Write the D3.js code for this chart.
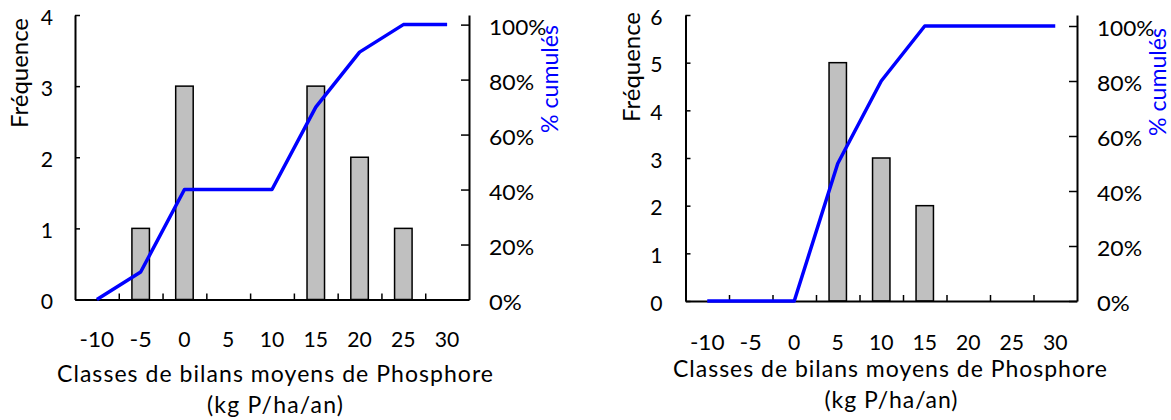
<!DOCTYPE html>
<html>
<head>
<meta charset="utf-8">
<script src="https://cdn.jsdelivr.net/npm/d3@7"></script>
<style>
  html, body { margin: 0; padding: 0; background: #fff; }
  svg { display: block; }
  text { font-family: Lato, "Open Sans", sans-serif; fill: #000; }
</style>
</head>
<body>
<svg id="chart" width="1171" height="420"></svg>
<script>
// ---- Data ----
const categories = ["-10", "-5", "0", "5", "10", "15", "20", "25", "30"];
const freqLeft  = [0, 1, 3, 0, 0, 3, 2, 1, 0];
const cumLeft   = [0, 0.10, 0.40, 0.40, 0.40, 0.70, 0.90, 1.00, 1.00];
const freqRight = [0, 0, 0, 5, 3, 2, 0, 0, 0];
const cumRight  = [0, 0, 0, 0.50, 0.80, 1.00, 1.00, 1.00, 1.00];
const freqTicksLeft  = [0, 1, 2, 3, 4];
const freqTicksRight = [0, 1, 2, 3, 4, 5, 6];
const pctTicks = [0, 0.2, 0.4, 0.6, 0.8, 1.0];
const xTitleLine1 = "Classes de bilans moyens de Phosphore";
const xTitleLine2 = "(kg P/ha/an)";
const yLeftTitle = "Fréquence";
const yRightTitle = "% cumulés";

const svg = d3.select("#chart");

// approximate rendered widths of the reference glyphs (styling only)
const glyphW = ch => ch === "%" ? 20.5 : ch === "-" ? 10 : 12.3;
const labelLen = s => Array.from(s).reduce((a, ch) => a + glyphW(ch), 0);

function drawChart(freq, cum, freqTicks, L) {
  const g = svg.append("g");
  const n = categories.length;
  const x = d3.scaleBand().domain(categories).range([L.x0, L.x1])
    .paddingInner(0.6).paddingOuter(0.3);
  const xEdge = d3.scaleLinear().domain([0, n]).range([L.x0, L.x1]);
  const yL = d3.scaleLinear().domain([0, d3.max(freqTicks)]).range([L.yBot, L.yTop]);
  const yR = d3.scaleLinear().domain([0, L.pctMax]).range([L.yBot, L.yTop]);

  // bars
  g.append("g").selectAll("rect").data(categories.map((c, i) => ({c, v: freq[i]})).filter(d => d.v > 0))
    .join("rect")
    .attr("x", d => x(d.c))
    .attr("y", d => yL(d.v))
    .attr("width", x.bandwidth())
    .attr("height", d => yL(0) - yL(d.v))
    .attr("fill", "#C0C0C0")
    .attr("stroke", "#000")
    .attr("stroke-width", 1.5);

  const tickFont = (sel) => sel.selectAll("text")
    .attr("font-family", "Lato, 'Open Sans', sans-serif")
    .attr("font-size", 21).attr("fill", "#000")
    .attr("textLength", function () { return labelLen(this.textContent); })
    .attr("lengthAdjust", "spacingAndGlyphs");

  // left axis
  const axL = g.append("g").attr("transform", `translate(${L.x0},0)`)
    .call(d3.axisLeft(yL).tickValues(freqTicks).tickFormat(d3.format("d"))
      .tickSizeInner(-5).tickSizeOuter(0).tickPadding(L.leftPad));
  axL.select(".domain").attr("stroke-width", 2);
  axL.selectAll(".tick line").attr("stroke-width", 1.5);
  tickFont(axL);
  axL.selectAll("text").attr("dy", null).attr("y", 9);

  // right axis
  const axR = g.append("g").attr("transform", `translate(${L.x1},0)`)
    .call(d3.axisRight(yR).tickValues(pctTicks).tickFormat(d3.format(".0%"))
      .tickSizeInner(-8).tickSizeOuter(0).tickPadding(20));
  axR.select(".domain").attr("stroke-width", 2);
  axR.selectAll(".tick line").attr("stroke-width", 1.5);
  tickFont(axR);
  axR.selectAll("text").attr("dy", null).attr("y", 9.5);

  // x axis: labels at centers
  const axX = g.append("g").attr("transform", `translate(0,${L.yBot})`)
    .call(d3.axisBottom(x).tickSize(0).tickPadding(0));
  axX.select(".domain").remove();
  tickFont(axX);
  axX.selectAll("text").attr("dy", null).attr("y", L.tickBase - L.yBot);

  // x axis: boundary tick marks and line
  const axE = g.append("g").attr("transform", `translate(0,${L.yBot})`)
    .call(d3.axisBottom(xEdge).tickValues(d3.range(1, n)).tickFormat("")
      .tickSizeInner(-6).tickSizeOuter(0));
  axE.select(".domain").attr("stroke-width", 2);
  axE.selectAll(".tick line").attr("stroke-width", 1.5);

  // cumulative line
  const line = d3.line()
    .x((d, i) => x(categories[i]) + x.bandwidth() / 2)
    .y(d => yR(d));
  g.append("path").datum(cum)
    .attr("d", line)
    .attr("fill", "none")
    .attr("stroke", "#0000FF")
    .attr("stroke-width", 3.5)
    .attr("stroke-linejoin", "round");

  // titles
  g.append("text").attr("x", L.titleCx).attr("y", L.t1Base)
    .attr("text-anchor", "middle").attr("font-size", 23)
    .attr("textLength", L.t1Len).attr("lengthAdjust", "spacing")
    .text(xTitleLine1);
  g.append("text").attr("x", L.titleCx2).attr("y", L.t2Base)
    .attr("text-anchor", "middle").attr("font-size", 23)
    .attr("textLength", L.t2Len).attr("lengthAdjust", "spacing")
    .text(xTitleLine2);
  g.append("text")
    .attr("transform", `translate(${L.fqX},${L.fqY}) rotate(-90)`)
    .attr("text-anchor", "middle").attr("font-size", 24)
    .attr("textLength", 110).attr("lengthAdjust", "spacingAndGlyphs")
    .text(yLeftTitle);
  g.append("text")
    .attr("transform", `translate(${L.pcX},${L.pcY}) rotate(-90)`)
    .attr("text-anchor", "middle").attr("font-size", 24)
    .attr("textLength", 108).attr("lengthAdjust", "spacingAndGlyphs")
    .style("fill", "#0000FF")
    .text(yRightTitle);
}

drawChart(freqLeft, cumLeft, freqTicksLeft, {
  x0: 75, x1: 469, yTop: 15, yBot: 299.5, pctMax: 1.035, leftPad: 22,
  tickBase: 347, titleCx: 275, t1Base: 382, t1Len: 436,
  titleCx2: 275, t2Base: 413, t2Len: 136,
  fqX: 28, fqY: 73, pcX: 558, pcY: 79
});
drawChart(freqRight, cumRight, freqTicksRight, {
  x0: 685.5, x1: 1077, yTop: 15, yBot: 301, pctMax: 1.04, leftPad: 23,
  tickBase: 350, titleCx: 890, t1Base: 377, t1Len: 434,
  titleCx2: 891, t2Base: 408, t2Len: 133,
  fqX: 640, fqY: 67, pcX: 1166, pcY: 82
});
</script>
</body>
</html>
